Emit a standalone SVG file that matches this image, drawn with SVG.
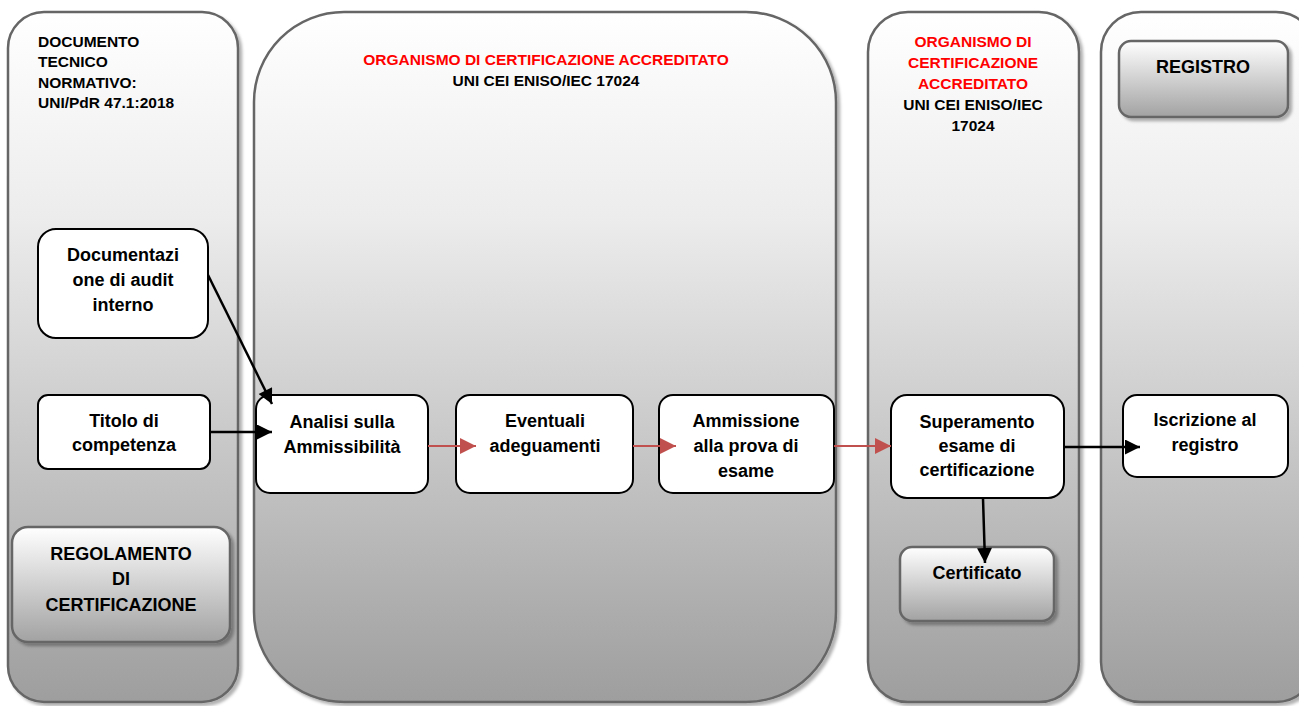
<svg xmlns="http://www.w3.org/2000/svg" width="1299" height="706" viewBox="0 0 1299 706">
<defs>
<linearGradient id="laneG" x1="0" y1="0" x2="0" y2="1">
<stop offset="0" stop-color="#ffffff"/><stop offset="0.3" stop-color="#ececec"/><stop offset="1" stop-color="#9e9e9e"/>
</linearGradient>
<linearGradient id="boxG" x1="0" y1="0" x2="0" y2="1">
<stop offset="0" stop-color="#ffffff"/><stop offset="1" stop-color="#a2a2a2"/>
</linearGradient>
<filter id="sh" x="-10%" y="-10%" width="130%" height="130%">
<feDropShadow dx="3" dy="3" stdDeviation="1.5" flood-color="#000" flood-opacity="0.3"/>
</filter>
<marker id="ab" viewBox="0 0 10 10" refX="10" refY="5" markerWidth="6.5" markerHeight="6" orient="auto" markerUnits="strokeWidth">
<path d="M0,0 L10,5 L0,10 z" fill="#000"/>
</marker>
<marker id="ar" viewBox="0 0 10 10" refX="10" refY="5" markerWidth="8.5" markerHeight="8" orient="auto" markerUnits="strokeWidth">
<path d="M0,0 L10,5 L0,10 z" fill="#c0504d"/>
</marker>
</defs>
<style>
.lane{fill:url(#laneG);stroke:#666;stroke-width:2.5;filter:url(#sh)}
.node{fill:#fff;stroke:#000;stroke-width:2}
.gbox{fill:url(#boxG);stroke:#666;stroke-width:2.5;filter:url(#sh)}
text{font-family:"Liberation Sans",Arial,sans-serif;font-weight:bold;fill:#000}
.t{font-size:18px;text-anchor:middle}
.h{font-size:15.5px}
.red{fill:#ff0000}
.cb{stroke:#000;stroke-width:2.5;fill:none;marker-end:url(#ab)}
.cr{stroke:#c0504d;stroke-width:2;fill:none;marker-end:url(#ar)}
</style>
<rect width="1299" height="706" fill="#fff"/>
<g id="lane1"><rect class="lane" x="8" y="12" width="230" height="690" rx="36"/>
<text class="h" x="38" y="47">DOCUMENTO</text><text class="h" x="38" y="67">TECNICO</text><text class="h" x="38" y="88">NORMATIVO:</text><text class="h" x="38" y="108">UNI/PdR 47.1:2018</text></g>
<g id="lane2"><rect class="lane" x="254" y="12" width="582" height="690" rx="90"/>
<text class="h red" x="546" y="65" text-anchor="middle">ORGANISMO DI CERTIFICAZIONE ACCREDITATO</text>
<text class="h" x="546" y="86" text-anchor="middle">UNI CEI ENISO/IEC 17024</text></g>
<g id="lane3"><rect class="lane" x="868" y="12" width="211" height="690" rx="40"/>
<text class="h red" x="973" y="47" text-anchor="middle">ORGANISMO DI</text><text class="h red" x="973" y="68" text-anchor="middle">CERTIFICAZIONE</text><text class="h red" x="973" y="89" text-anchor="middle">ACCREDITATO</text>
<text class="h" x="973" y="110" text-anchor="middle">UNI CEI ENISO/IEC</text><text class="h" x="973" y="131" text-anchor="middle">17024</text></g>
<g id="lane4"><rect class="lane" x="1101" y="12" width="215" height="690" rx="40"/></g>
<g id="registro"><rect class="gbox" x="1119" y="41" width="169" height="76" rx="12"/><text class="t" x="1203" y="73">REGISTRO</text></g>
<g id="regolamento"><rect class="gbox" x="12" y="527" width="218" height="115" rx="16"/>
<text class="t" x="121" y="560">REGOLAMENTO</text><text class="t" x="121" y="585">DI</text><text class="t" x="121" y="611">CERTIFICAZIONE</text></g>
<g id="documentazione"><rect class="node" x="38" y="229" width="170" height="109" rx="18"/>
<text class="t" x="123" y="261">Documentazi</text><text class="t" x="123" y="286">one di audit</text><text class="t" x="123" y="311">interno</text></g>
<g id="titolo"><rect class="node" x="38" y="395" width="172" height="74" rx="10"/>
<text class="t" x="124" y="427">Titolo di</text><text class="t" x="124" y="451">competenza</text></g>
<g id="analisi"><rect class="node" x="256" y="395" width="172" height="98" rx="14"/>
<text class="t" x="342" y="428">Analisi sulla</text><text class="t" x="342" y="453">Ammissibilità</text></g>
<g id="eventuali"><rect class="node" x="456" y="395" width="177" height="98" rx="14"/>
<text class="t" x="545" y="427">Eventuali</text><text class="t" x="545" y="452">adeguamenti</text></g>
<g id="ammissione"><rect class="node" x="659" y="395" width="175" height="98" rx="14"/>
<text class="t" x="746" y="427">Ammissione</text><text class="t" x="746" y="452">alla prova di</text><text class="t" x="746" y="477">esame</text></g>
<g id="superamento"><rect class="node" x="891" y="395" width="173" height="103" rx="16"/>
<text class="t" x="977" y="428">Superamento</text><text class="t" x="977" y="452">esame di</text><text class="t" x="977" y="476">certificazione</text></g>
<g id="iscrizione"><rect class="node" x="1123" y="395" width="165" height="82" rx="14"/>
<text class="t" x="1205" y="426">Iscrizione al</text><text class="t" x="1205" y="451">registro</text></g>
<g id="certificato"><rect class="gbox" x="900" y="547" width="154" height="74" rx="12"/><text class="t" x="977" y="579">Certificato</text></g>
<g id="connectors">
<path class="cb" d="M208,275 L272,404"/>
<path class="cb" d="M210,432 L272,432"/>
<path class="cr" d="M428,446 L476,446"/>
<path class="cr" d="M633,446 L676,446"/>
<path class="cr" d="M834,446 L891,446"/>
<path class="cb" d="M1064,447 L1140,447"/>
<path class="cb" d="M983,498 L985,563"/>
</g>
</svg>
